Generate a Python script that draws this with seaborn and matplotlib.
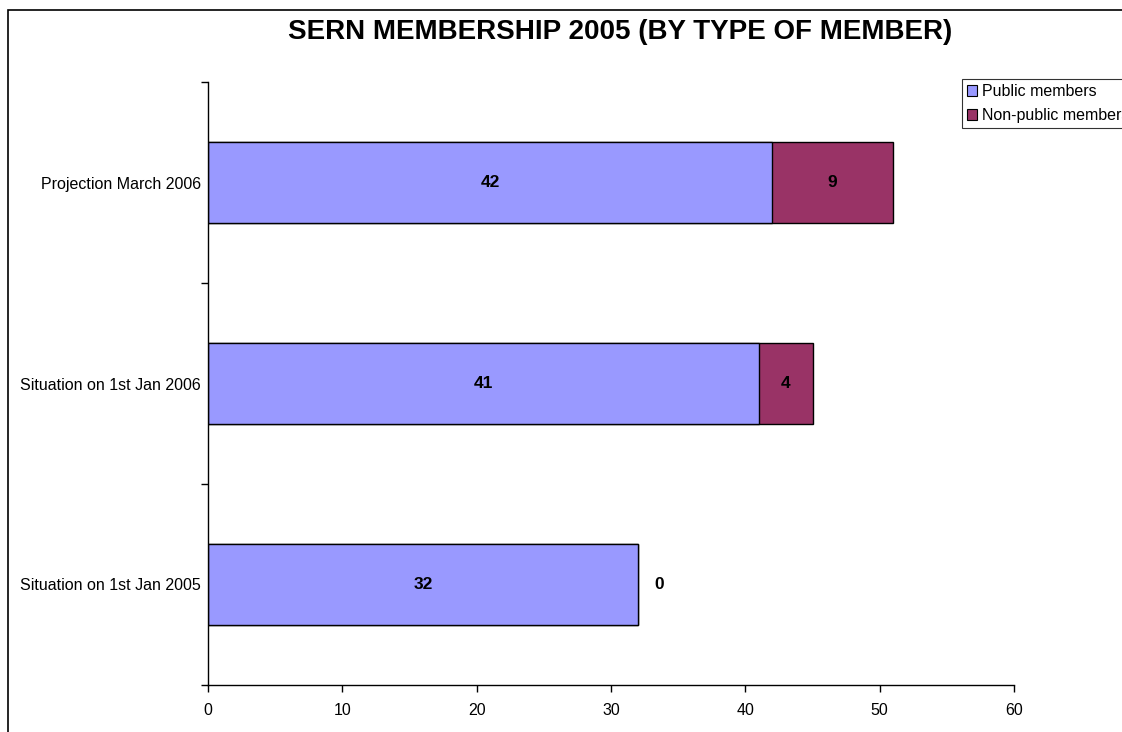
import matplotlib
matplotlib.use("Agg")
import matplotlib.pyplot as plt
import seaborn as sns
import pandas as pd
from matplotlib.patches import Rectangle, Patch

categories = ["Projection March 2006", "Situation on 1st Jan 2006", "Situation on 1st Jan 2005"]
public = [42, 41, 32]
non_public = [9, 4, 0]
series_names = ["Public members", "Non-public members"]
x_ticks = [0, 10, 20, 30, 40, 50, 60]
title = "SERN MEMBERSHIP 2005 (BY TYPE OF MEMBER)"

c_pub = "#9999FF"
c_non = "#993366"

sns.set_theme(style="white")
plt.rcParams['font.family'] = ['Liberation Sans', 'DejaVu Sans']
plt.rcParams['text.color'] = 'black'
plt.rcParams['xtick.color'] = 'black'
plt.rcParams['ytick.color'] = 'black'

df = pd.DataFrame({"cat": categories, "public": public, "non": non_public})
df["total"] = df["public"] + df["non"]

fig = plt.figure(figsize=(11.22, 7.32), dpi=100)
ax = fig.add_axes([208/1122, 1-685/732, (1014-208)/1122, (685-82)/732])

sns.barplot(data=df, x="total", y="cat", order=categories, color=c_non, saturation=1,
            edgecolor="black", linewidth=1, width=0.4, ax=ax, orient="h")
sns.barplot(data=df, x="public", y="cat", order=categories, color=c_pub, saturation=1,
            edgecolor="black", linewidth=1, width=0.4, ax=ax, orient="h")

for i, (p, n) in enumerate(zip(public, non_public)):
    ax.text(p / 2, i, str(p), ha="center", va="center", fontsize=12.5, fontweight="bold", color="black")
    nx = p + n / 2 if n > 0 else p + 1.6
    ax.text(nx, i, str(n), ha="center", va="center", fontsize=12.5, fontweight="bold", color="black")

ax.set_xlim(0, 60)
ax.set_ylim(2.5, -0.5)
ax.set_xticks(x_ticks)
ax.set_xticklabels([str(t) for t in x_ticks], fontsize=11.5)
ax.tick_params(axis="x", direction="out", length=5, width=1, color="black", bottom=True, pad=8, labelcolor="black")
ax.set_yticks(range(len(categories)))
ax.set_yticklabels(categories, fontsize=11.5)
ax.tick_params(axis="y", which="major", length=0, pad=5, labelcolor="black")
ax.set_yticks([-0.5, 0.5, 1.5, 2.5], minor=True)
ax.tick_params(axis="y", which="minor", direction="out", length=5, width=1, color="black", left=True)
ax.set_xlabel("")
ax.set_ylabel("")
for s in ["top", "right"]:
    ax.spines[s].set_visible(False)
for s in ["left", "bottom"]:
    ax.spines[s].set_color("black")
    ax.spines[s].set_linewidth(1)
ax.grid(False)

fig.suptitle(title, x=620/1122, y=1-19/732, va="top", fontsize=20, fontweight="bold", color="black")

handles = [Patch(facecolor=c_pub, edgecolor="black", linewidth=0.8),
           Patch(facecolor=c_non, edgecolor="black", linewidth=0.8)]
leg = fig.legend(handles, series_names, loc="upper left", bbox_to_anchor=(962/1122, 1-79/732),
                 frameon=True, fancybox=False, edgecolor="black", fontsize=11.5,
                 handlelength=0.65, handleheight=0.65, handletextpad=0.3, borderpad=0.3,
                 labelspacing=0.6, borderaxespad=0)
leg.get_frame().set_linewidth(0.8)
for t in leg.get_texts():
    t.set_color("black")

fig.patches.append(Rectangle((8/1122, -0.1), 1.2, 1-10/732 + 0.1, transform=fig.transFigure,
                             fill=False, edgecolor="black", linewidth=1.2))

fig.savefig("out.png", dpi=100)
